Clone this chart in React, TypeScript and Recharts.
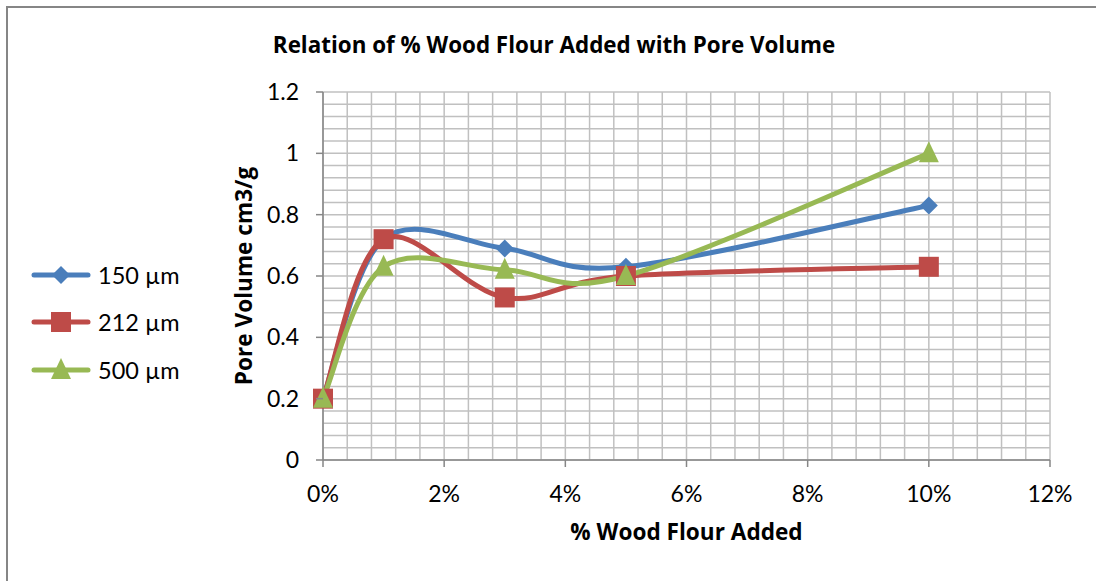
import React from 'react';
import { LineChart, Line, XAxis, YAxis, CartesianGrid } from 'recharts';

const percents = [0, 0.01, 0.03, 0.05, 0.1];
const s150 = [0.2, 0.72, 0.69, 0.63, 0.83];
const s212 = [0.2, 0.72, 0.53, 0.6, 0.63];
const s500 = [0.2, 0.63, 0.62, 0.6, 1.0];
const seriesNames = ['150 µm', '212 µm', '500 µm'];
const colors = ['#4a7ebb', '#be4b48', '#98b954'];
const xMajor = [0, 0.02, 0.04, 0.06, 0.08, 0.1, 0.12];
const yMajor = [0, 0.2, 0.4, 0.6, 0.8, 1, 1.2];
const xMinor = [0, 0.004, 0.008, 0.012, 0.016, 0.02, 0.024, 0.028, 0.032, 0.036, 0.04, 0.044, 0.048, 0.052, 0.056, 0.06, 0.064, 0.068, 0.072, 0.076, 0.08, 0.084, 0.088, 0.092, 0.096, 0.1, 0.104, 0.108, 0.112, 0.116, 0.12];
const yMinor = [0, 0.04, 0.08, 0.12, 0.16, 0.2, 0.24, 0.28, 0.32, 0.36, 0.4, 0.44, 0.48, 0.52, 0.56, 0.6, 0.64, 0.68, 0.72, 0.76, 0.8, 0.84, 0.88, 0.92, 0.96, 1, 1.04, 1.08, 1.12, 1.16, 1.2];

const FONT = 'Lato, "Open Sans", sans-serif';
const BOLD_FONT = '"Open Sans", Lato, sans-serif';
const data = percents.map((p, i) => ({ x: p, a: s150[i], b: s212[i], c: s500[i] }));

const isMajor = (v: number, majors: number[]) => majors.some((m) => Math.abs(m - v) < 1e-9);

// Excel-like smooth curve (Catmull-Rom style bezier)
const smoothCurve: any = (context: any) => {
  let pts: number[][] = [];
  return {
    areaStart() {},
    areaEnd() {},
    lineStart() { pts = []; },
    point(x: number, y: number) { pts.push([+x, +y]); },
    lineEnd() {
      if (!pts.length) return;
      context.moveTo(pts[0][0], pts[0][1]);
      for (let i = 0; i < pts.length - 1; i++) {
        const p0 = pts[i - 1] || pts[i];
        const p1 = pts[i];
        const p2 = pts[i + 1];
        const p3 = pts[i + 2] || pts[i + 1];
        const c1x = p1[0] + (p2[0] - p0[0]) / 6;
        const c1y = p1[1] + (p2[1] - p0[1]) / 6;
        const c2x = p2[0] - (p3[0] - p1[0]) / 6;
        const c2y = p2[1] - (p3[1] - p1[1]) / 6;
        context.bezierCurveTo(c1x, c1y, c2x, c2y, p2[0], p2[1]);
      }
    },
  };
};

const Marker = ({ cx, cy, kind, color }: any) => {
  if (cx == null || cy == null) return null;
  if (kind === 0) {
    const r = 9;
    return <polygon points={`${cx},${cy - r} ${cx + r},${cy} ${cx},${cy + r} ${cx - r},${cy}`} fill={color} />;
  }
  if (kind === 1) {
    const h = 10;
    return <rect x={cx - h} y={cy - h} width={2 * h} height={2 * h} fill={color} />;
  }
  const h = 10;
  return <polygon points={`${cx},${cy - h - 2} ${cx + h},${cy + h - 1} ${cx - h},${cy + h - 1}`} fill={color} />;
};

const XTick = ({ x, y, payload }: any) => {
  const v = payload.value;
  if (!isMajor(v, xMajor)) return null;
  return (
    <g>
      <line x1={x} y1={y - 8} x2={x} y2={y - 1} stroke="#868686" strokeWidth={1.5} />
      <text x={x} y={y + 34} textAnchor="middle" fill="#000" fontSize={23} fontFamily={FONT}>
        {`${Math.round(v * 100)}%`}
      </text>
    </g>
  );
};

const YTick = ({ x, y, payload }: any) => {
  const v = payload.value;
  if (!isMajor(v, yMajor)) return null;
  return (
    <g>
      <line x1={x + 1} y1={y} x2={x + 8} y2={y} stroke="#868686" strokeWidth={1.5} />
      <text x={x - 16} y={y + 8} textAnchor="end" fill="#000" fontSize={23} fontFamily={FONT}>
        {String(Math.round(v * 10) / 10)}
      </text>
    </g>
  );
};

const keys = ['a', 'b', 'c'];

export default function App() {
  return (
    <div style={{ position: 'absolute', left: 0, top: 0, width: 1096, height: 581, overflow: 'hidden', background: '#fff' }}>
      <div style={{ position: 'absolute', left: 6, top: 6, width: 1200, height: 700, border: '2px solid #868686' }} />
      <div style={{ position: 'absolute', left: 0, top: 29, width: 1108, textAlign: 'center', fontFamily: BOLD_FONT, fontWeight: 'bold', fontSize: 22.4, color: '#000' }}>
        Relation of % Wood Flour Added with Pore Volume
      </div>
      <div style={{ position: 'absolute', left: 323, width: 727, top: 516, textAlign: 'center', fontFamily: BOLD_FONT, fontWeight: 'bold', fontSize: 22.6, color: '#000' }}>
        % Wood Flour Added
      </div>
      <div style={{ position: 'absolute', left: 243, top: 276, transform: 'translate(-50%, -50%) rotate(-90deg)', whiteSpace: 'nowrap', fontFamily: BOLD_FONT, fontWeight: 'bold', fontSize: 22.6, color: '#000' }}>
        Pore Volume cm3/g
      </div>
      <div style={{ position: 'absolute', left: 31, top: 251, fontFamily: FONT, fontSize: 23.5, color: '#000' }}>
        {seriesNames.map((n, i) => (
          <div key={n} style={{ display: 'flex', alignItems: 'center', height: 47.5 }}>
            <svg width={60} height={24}>
              <line x1={3} y1={12} x2={57} y2={12} stroke={colors[i]} strokeWidth={5} strokeLinecap="round" />
              <Marker cx={30} cy={12} kind={i} color={colors[i]} />
            </svg>
            <span style={{ marginLeft: 7 }}>{n}</span>
          </div>
        ))}
      </div>
      <div style={{ position: 'absolute', left: 0, top: 0 }}>
        <LineChart width={1096} height={581} data={data} margin={{ top: 92, right: 46, left: 263, bottom: 81 }}>
          <CartesianGrid stroke="#c0c0c0" strokeWidth={1.5} />
          <XAxis
            dataKey="x"
            type="number"
            domain={[0, 0.12]}
            ticks={xMinor}
            interval={0}
            height={40}
            stroke="#868686"
            strokeWidth={1.5}
            tickLine={false}
            tick={<XTick />}
          />
          <YAxis
            type="number"
            domain={[0, 1.2]}
            ticks={yMinor}
            interval={0}
            width={60}
            stroke="#868686"
            strokeWidth={1.5}
            tickLine={false}
            tick={<YTick />}
          />
          {keys.map((k, i) => (
            <Line
              key={k}
              dataKey={k}
              name={seriesNames[i]}
              type={smoothCurve}
              stroke={colors[i]}
              strokeWidth={5}
              isAnimationActive={false}
              dot={(p: any) => <Marker key={`${k}-${p.index}`} cx={p.cx} cy={p.cy} kind={i} color={colors[i]} />}
              activeDot={false}
            />
          ))}
        </LineChart>
      </div>
    </div>
  );
}
